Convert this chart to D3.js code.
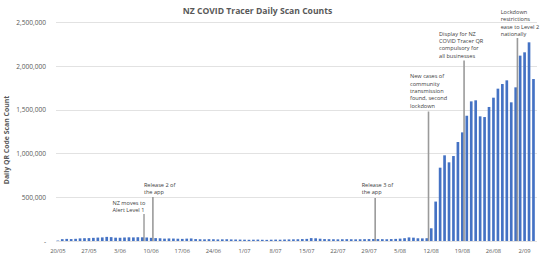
<!DOCTYPE html>
<html>
<head>
<meta charset="utf-8">
<script src="https://cdn.jsdelivr.net/npm/d3@7"></script>
<style>
  body { margin: 0; background: #fff; }
  svg { display: block; font-family: "Open Sans", sans-serif; }
</style>
</head>
<body>
<svg width="550" height="274"></svg>
<script>
// daily scans, 20 May - 4 Sep 2020
var startDay = new Date(2020, 4, 20),
    endDay = new Date(2020, 8, 5);

var scanCounts = [
  5000, 21000, 24000, 22000, 25000, 30000, 32000, 33000, 36000, 39000,
  41000, 47000, 44000, 38000, 37000, 40000, 42000, 41000, 43000, 42000,
  40000, 36000, 33000, 31000, 27000, 29000, 28000, 26000, 24000, 27000,
  29000, 22000, 20000, 19000, 21000, 20000, 18000, 19000, 20000, 18000,
  17000, 16000, 15000, 14000, 15000, 16000, 14000, 13000, 15000, 16000,
  15000, 17000, 18000, 19000, 20000, 22000, 24000, 33000, 31000, 26000,
  22000, 21000, 20000, 19000, 20000, 21000, 20000, 19000, 20000, 21000,
  22000, 23000, 22000, 21000, 20000, 22000, 24000, 27000, 32000, 41000,
  38000, 31000, 30000, 32000, 145000, 450000, 837000, 978000, 898000, 970000,
  1130000, 1240000, 1430000, 1594000, 1606000, 1423000, 1415000, 1530000, 1636000, 1739000,
  1792000, 1834000, 1583000, 1754000, 2116000, 2154000, 2268000, 1849000
];

var xTickLabels = ["20/05", "27/05", "3/06", "10/06", "17/06", "24/06", "1/07", "8/07",
                   "15/07", "22/07", "29/07", "5/08", "12/08", "19/08", "26/08", "2/09"];

var yTicks = [0, 500000, 1000000, 1500000, 2000000, 2500000];

var eventDates = ["9/06", "11/06", "31/07", "12/08", "20/08", "1/09"];
var eventTexts = [
  ["NZ moves to", "Alert Level 1"],
  ["Release 2 of", "the app"],
  ["Release 3 of", "the app"],
  ["New cases of", "community", "transmission", "found, second", "lockdown"],
  ["Display for NZ", "COVID Tracer QR", "compulsory for", "all businesses"],
  ["Lockdown", "restrictions", "ease to Level 2", "nationally"]
];

// label placement (px): text offset from line, first text line y, line top
var eventLayout = [
  { dx: -31.5, ty: 204.5, top: 214 },
  { dx: -9,    ty: 186.5, top: 197 },
  { dx: -13.5, ty: 186.5, top: 198 },
  { dx: -18.5, ty: 78.2,  top: 111.5 },
  { dx: -25,   ty: 35.5,  top: 60.5 },
  { dx: -16.7, ty: 13.9,  top: 38 }
];

var fmtDay = d3.timeFormat("%-d/%m");
var days = d3.timeDay.range(startDay, endDay).map(fmtDay);

var svg = d3.select("svg");

var x = d3.scaleBand()
    .domain(days)
    .range([55.6, 535.7])
    .paddingInner(0.4)
    .paddingOuter(0.2);

var y = d3.scaleLinear()
    .domain([0, 2500000])
    .range([241, 22]);

// gridlines
svg.append("g")
  .selectAll("line")
  .data(yTicks)
  .enter().append("line")
    .attr("x1", 56)
    .attr("x2", 537)
    .attr("y1", function(d) { return Math.round(y(d)) + 0.5; })
    .attr("y2", function(d) { return Math.round(y(d)) + 0.5; })
    .attr("stroke", "#e2e2e2")
    .attr("stroke-width", 1);

// y axis labels
var yAxis = svg.append("g")
    .attr("transform", "translate(46,0)")
    .call(d3.axisLeft(y)
      .tickValues(yTicks)
      .tickSize(0)
      .tickPadding(0)
      .tickFormat(function(d) { return d === 0 ? "-  " : d3.format(",")(d); }));
yAxis.select(".domain").remove();
yAxis.selectAll("text")
    .attr("font-family", "Open Sans, sans-serif")
    .attr("font-size", 6.6)
    .attr("fill", "#595959")
    .attr("dy", "0.34em");

// x axis labels
var xAxis = svg.append("g")
    .attr("transform", "translate(0,241)")
    .call(d3.axisBottom(x)
      .tickValues(xTickLabels)
      .tickSize(0)
      .tickPadding(0));
xAxis.select(".domain").remove();
xAxis.selectAll("text")
    .attr("font-family", "Open Sans, sans-serif")
    .attr("font-size", 5.8)
    .attr("fill", "#595959")
    .attr("y", 12)
    .attr("dy", null);

// bars
svg.append("g")
  .selectAll("rect")
  .data(scanCounts)
  .enter().append("rect")
    .attr("x", function(d, i) { return x(days[i]); })
    .attr("width", x.bandwidth())
    .attr("y", function(d) { return y(d); })
    .attr("height", function(d) { return y(0) - y(d); })
    .attr("fill", "#4472c4");

// event callouts
var slotOffset = (x.step() - x.bandwidth()) / 2;
var events = svg.append("g")
  .selectAll("g")
  .data(eventDates)
  .enter().append("g");

events.append("line")
    .attr("x1", function(d) { return x(d) - slotOffset - 0.5; })
    .attr("x2", function(d) { return x(d) - slotOffset - 0.5; })
    .attr("y1", function(d, i) { return eventLayout[i].top; })
    .attr("y2", 241)
    .attr("stroke", function(d, i) { return i === 0 ? "#6f6f6f" : "#9a9a9a"; })
    .attr("stroke-width", function(d, i) { return i === 0 ? 1 : 1.6; });

events.each(function(d, i) {
  var lx = x(d) - slotOffset - 0.5 + eventLayout[i].dx;
  d3.select(this).append("text")
      .attr("font-size", 5.6)
      .attr("fill", "#404040")
    .selectAll("tspan")
    .data(eventTexts[i])
    .enter().append("tspan")
      .attr("x", lx)
      .attr("y", function(t, j) { return eventLayout[i].ty + j * 7.4; })
      .text(function(t) { return t; });
});

// title
svg.append("text")
    .attr("x", 257.5)
    .attr("y", 13.8)
    .attr("text-anchor", "middle")
    .attr("font-size", 8.6)
    .attr("font-weight", "bold")
    .attr("fill", "#595959")
    .text("NZ COVID Tracer Daily Scan Counts");

// y axis title
svg.append("text")
    .attr("transform", "translate(8.6,140) rotate(-90)")
    .attr("text-anchor", "middle")
    .attr("font-size", 6.9)
    .attr("font-weight", "bold")
    .attr("fill", "#595959")
    .text("Daily QR Code Scan Count");
</script>
</body>
</html>
